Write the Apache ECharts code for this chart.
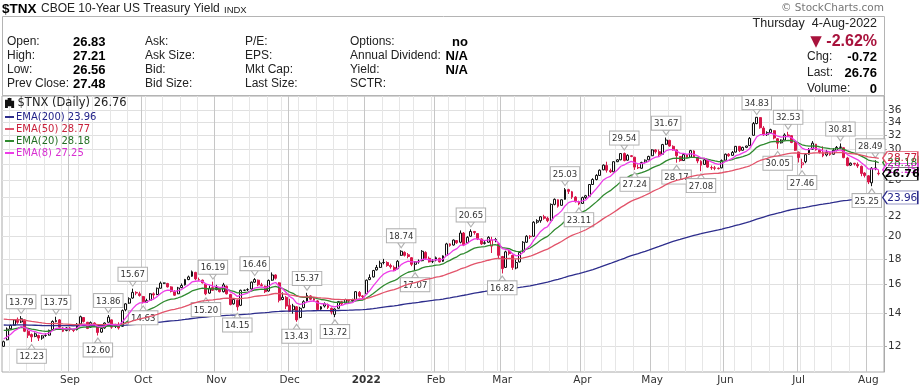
<!DOCTYPE html>
<html><head><meta charset="utf-8">
<script src="https://cdn.jsdelivr.net/npm/echarts@6/dist/echarts.min.js"></script>
<style>html,body{margin:0;padding:0;background:#fff;}#c{width:921px;height:388px;}</style>
</head><body><div id="c"></div>
<script>
// ---------- data (TNX, yield x10) ----------
const holidays = ['2021-09-06','2021-11-25','2021-12-24','2022-01-17','2022-02-21','2022-04-15','2022-05-30','2022-06-20','2022-07-04'];
const opens = [
 11.98,12.35,13.00,13.22,13.58,13.42,13.55,12.85,12.66,12.55,12.60,12.45,12.60,12.62,12.95,13.45,13.55,13.05,12.90,
 13.05,12.95,12.95,13.30,13.70,13.40,13.10,13.35,13.20,12.80,13.05,13.40,13.55,13.15,13.25,13.15,14.20,14.65,15.00,15.40,15.30,
 15.10,14.70,14.85,15.30,15.25,15.70,16.08,16.05,15.80,15.45,15.30,15.75,15.95,16.35,16.60,16.90,16.35,16.30,16.00,15.35,15.75,
 15.60,15.70,15.45,15.85,15.25,14.60,14.85,14.50,15.55,15.60,15.65,16.15,16.30,15.95,15.85,15.50,16.30,16.70,16.10,14.90,15.05,
 14.50,14.20,14.40,13.70,14.35,14.80,15.15,14.95,14.80,14.25,14.45,14.55,14.30,13.90,14.30,14.75,14.65,14.85,14.80,14.90,15.40,15.15,
 15.30,16.35,16.55,17.10,17.30,17.70,17.70,17.45,17.30,17.20,18.30,18.55,18.35,18.10,17.55,17.75,17.85,18.55,18.05,17.80,
 17.90,18.05,17.80,18.30,19.30,19.20,19.60,19.45,20.30,19.40,20.00,20.45,20.25,19.75,19.35,19.45,19.10,19.70,19.30,
 18.20,17.30,18.65,18.30,17.25,17.75,18.60,19.45,20.00,20.00,21.35,21.50,21.90,21.75,21.55,23.20,23.70,23.10,23.75,24.85,24.60,24.00,23.50,
 23.30,23.95,24.10,25.45,26.05,26.55,27.25,27.80,27.15,27.00,28.30,28.55,29.40,28.50,29.10,28.90,27.55,27.45,28.25,28.55,
 29.10,29.90,29.65,29.30,30.70,31.25,30.40,29.90,29.00,28.45,29.20,28.90,29.75,28.85,28.35,27.95,28.50,27.55,27.50,27.45,27.50,
 28.50,29.30,29.15,29.60,30.40,29.85,30.25,30.50,32.00,33.80,34.75,33.10,32.10,32.40,32.70,31.50,30.90,31.30,32.05,31.95,30.95,
 29.60,27.90,28.30,29.30,30.00,30.70,29.85,29.50,29.20,29.50,29.30,29.85,30.25,30.20,28.80,27.85,28.10,27.95,27.70,26.85,
 26.50,25.65,27.45,26.83];
const highs = [
 12.30,13.08,13.25,13.60,13.70,13.79,13.58,12.95,12.72,12.78,12.65,12.62,12.72,12.95,13.52,13.75,13.60,13.10,13.10,
 13.12,13.00,13.35,13.82,13.72,13.42,13.45,13.40,13.25,13.10,13.40,13.86,13.58,13.30,13.40,14.22,14.65,15.05,15.67,15.48,15.45,
 15.15,14.95,15.35,15.40,15.75,16.20,16.12,16.10,15.85,15.55,15.80,16.05,16.40,16.65,17.05,16.95,16.50,16.35,16.05,15.90,16.19,
 15.95,15.75,16.10,15.90,15.30,15.00,14.90,15.60,15.60,15.70,16.20,16.46,16.35,16.10,15.90,16.35,16.90,16.75,16.15,15.40,15.15,
 14.95,14.60,14.45,14.40,14.85,15.37,15.20,15.05,14.85,14.45,14.70,14.62,14.35,14.30,14.80,14.80,14.95,14.90,14.95,15.50,15.50,15.20,
 16.35,16.75,17.10,17.50,17.85,18.00,17.80,17.60,17.45,17.90,18.74,18.65,18.50,18.15,17.80,17.95,18.75,18.65,18.20,17.98,
 18.20,18.10,18.30,19.40,19.35,19.70,19.65,20.55,20.40,20.00,20.65,20.50,20.30,19.80,19.65,20.00,19.95,19.85,19.35,
 18.25,18.70,18.80,18.35,17.95,18.60,19.55,20.10,20.10,21.45,21.65,21.95,22.10,21.90,23.30,23.85,23.75,23.75,25.03,24.95,24.70,24.10,23.60,
 24.05,24.25,25.50,26.20,26.70,27.30,27.95,28.30,27.40,28.35,28.65,29.45,29.54,29.30,29.20,28.95,27.95,28.30,28.60,29.10,
 30.00,30.00,29.95,30.75,31.67,31.35,30.55,29.95,29.05,29.30,29.30,29.90,29.85,28.95,28.50,28.65,28.55,27.80,27.75,27.55,28.60,
 29.40,29.45,29.75,30.45,30.45,30.35,30.50,31.75,34.05,34.83,34.80,33.40,32.60,33.00,32.75,31.60,31.40,32.30,32.53,32.00,31.00,
 29.65,28.70,29.30,30.15,31.15,30.75,30.05,30.40,29.90,29.60,30.15,30.45,30.81,30.25,28.95,28.20,28.15,28.20,27.80,26.95,
 26.60,27.60,28.49,27.21];
const lows = [
 11.95,12.32,12.95,13.20,13.30,13.35,12.80,12.45,12.23,12.50,12.28,12.35,12.52,12.60,12.93,13.40,13.05,12.80,12.85,
 12.85,12.80,12.90,13.30,13.38,12.98,13.05,13.15,12.60,12.75,13.00,13.38,13.00,13.05,12.95,13.12,14.10,14.60,14.95,15.20,15.10,
 14.63,14.68,14.80,14.95,15.20,15.68,16.02,15.75,15.40,15.15,15.28,15.70,15.90,16.30,16.55,16.30,16.25,16.05,15.20,15.30,15.50,
 15.55,15.40,15.40,15.25,14.50,14.55,14.15,14.45,15.50,15.50,15.60,16.10,15.85,15.85,15.35,15.45,16.25,16.35,14.70,14.85,14.25,
 14.05,13.95,13.43,13.65,14.30,14.75,14.85,14.75,14.15,14.20,14.35,14.25,13.90,13.72,14.28,14.50,14.60,14.65,14.70,14.88,15.05,14.90,
 15.25,16.30,16.50,17.05,17.25,17.55,17.35,17.20,17.00,17.15,18.25,18.20,18.05,17.40,17.07,17.60,17.80,17.95,17.70,17.65,
 17.80,17.70,17.75,18.25,19.05,19.15,19.30,19.35,19.10,19.35,19.95,20.15,19.65,19.20,19.25,19.40,18.50,19.45,18.05,
 16.82,17.25,18.30,17.10,17.15,17.70,18.55,19.40,19.75,19.95,21.20,21.30,21.60,21.35,21.50,23.10,22.85,23.05,23.70,24.35,23.80,23.40,23.11,
 23.25,23.80,24.05,25.40,25.95,26.50,27.20,26.90,26.85,26.95,28.25,28.50,28.35,28.45,28.90,27.24,27.35,27.40,28.10,28.50,
 29.05,29.40,28.95,29.25,30.60,30.35,29.80,28.17,28.30,28.40,28.75,28.85,28.80,28.10,27.08,27.90,27.50,27.25,27.20,27.30,27.45,
 28.45,28.95,29.10,29.55,29.60,29.80,30.15,30.45,31.95,33.70,33.00,31.90,31.90,32.30,31.40,30.05,30.80,31.25,31.80,30.85,29.75,
 28.20,27.46,28.10,29.25,29.95,29.80,29.40,28.90,29.00,29.10,29.25,29.70,30.05,28.75,27.70,27.75,27.80,27.50,26.45,26.30,
 25.50,25.25,27.20,26.56];
const closes = [
 12.24,12.98,13.20,13.55,13.40,13.62,12.85,12.62,12.52,12.70,12.45,12.58,12.60,12.90,13.45,13.50,13.10,12.85,13.05,
 12.95,12.90,13.28,13.75,13.45,13.02,13.38,13.25,12.78,13.02,13.35,13.72,13.10,13.25,13.05,14.15,14.60,14.95,15.40,15.35,15.18,
 14.75,14.82,15.30,15.22,15.70,16.08,16.08,15.80,15.48,15.20,15.72,15.90,16.35,16.55,16.95,16.40,16.35,16.10,15.30,15.70,15.55,
 15.75,15.45,15.95,15.30,14.55,14.90,14.40,15.55,15.55,15.60,16.15,16.35,15.95,15.90,15.45,16.28,16.70,16.45,14.85,15.05,14.45,
 14.10,14.45,13.55,14.30,14.75,15.18,14.92,14.85,14.22,14.40,14.60,14.35,14.05,14.25,14.75,14.60,14.90,14.80,14.85,15.45,15.15,15.10,
 16.30,16.50,17.05,17.30,17.65,17.70,17.45,17.35,17.05,17.80,18.65,18.30,18.20,17.55,17.75,17.80,18.65,18.05,17.75,17.80,
 18.10,17.75,18.25,19.30,19.15,19.65,19.40,20.30,19.20,19.90,20.45,20.35,19.75,19.30,19.40,19.90,19.65,19.70,18.30,
 17.20,18.60,18.45,17.30,17.70,18.55,19.45,20.00,19.95,21.35,21.50,21.90,21.75,21.50,23.20,23.75,23.00,23.70,24.85,24.65,24.00,23.50,23.25,
 23.95,24.15,25.45,26.05,26.55,27.20,27.85,27.20,27.00,28.30,28.55,29.40,28.45,29.15,29.00,27.60,27.50,28.20,28.50,29.00,
 29.90,29.65,29.25,30.65,31.30,30.45,29.90,29.10,28.45,29.25,28.85,29.80,28.90,28.40,27.85,28.55,27.60,27.50,27.45,27.40,28.45,
 29.30,29.10,29.55,30.40,29.80,30.25,30.45,31.55,33.80,34.80,33.15,32.10,32.40,32.85,31.60,30.85,31.30,32.05,31.95,30.95,29.85,
 28.85,28.15,29.25,29.95,30.85,29.90,29.55,29.10,29.55,29.25,29.85,30.25,30.30,28.85,27.80,28.10,28.00,27.75,26.80,26.55,
 25.75,27.45,27.48,26.76];
// EMA values at the first bar
const emaSeeds = {200: 13.23, 50: 13.60, 20: 12.90, 8: 12.40};
const emaLast = {200: '23.96', 50: '28.77', 20: '28.18', 8: '27.25'};
const lastPrice = '26.76';
// swing annotations
const highIdx = [5,15,30,37,60,72,87,114,134,161,178,190,216,225,240,250];
const highVal = [13.79,13.75,13.86,15.67,16.19,16.46,15.37,18.74,20.65,25.03,29.54,31.67,34.83,32.53,30.81,28.49];
const lowIdx = [8,27,40,58,67,84,95,118,143,165,181,193,200,222,229,249];
const lowVal = [12.23,12.60,14.63,15.20,14.15,13.43,13.72,17.07,16.82,23.11,27.24,28.17,27.08,30.05,27.46,25.25];
const yTicks = [12,14,16,18,20,22,24,26,28,30,32,34,36];
const yRange = [10.63, 38.43];
const monthNames = ['Jan','Feb','Mar','Apr','May','Jun','Jul','Aug','Sep','Oct','Nov','Dec'];

// ---------- build ----------
function tradingDays(){
  const out=[]; let t=Date.UTC(2021,7,5); const end=Date.UTC(2022,7,4);
  while(t<=end){ const d=new Date(t); const wd=d.getUTCDay(); const s=d.toISOString().slice(0,10);
    if(wd!==0&&wd!==6&&holidays.indexOf(s)<0) out.push(s); t+=86400000; }
  return out;
}
const dates = tradingDays();
const cats = dates.concat(['']);
const lastDate = dates[dates.length-1];
const L = v => Math.log(v);
function ema(src,n,seed){ const k=2/(n+1); const o=[seed]; for(let i=1;i<src.length;i++) o.push(o[i-1]+k*(src[i]-o[i-1])); return o; }
const monthStart = new Set(), weekStart = new Set();
for(let i=1;i<dates.length;i++){
  if(dates[i].slice(0,7)!==dates[i-1].slice(0,7)) monthStart.add(i);
  const a=new Date(dates[i-1]+'T00:00:00Z'), b=new Date(dates[i]+'T00:00:00Z');
  if(b.getUTCDay()<a.getUTCDay() || (b-a)>4*86400000) weekStart.add(i);
}
const RED='#d8174a', BLK='#111';
const candleData = dates.map((d,i)=>{
  const o=opens[i],c=closes[i];
  const prev = i>0?closes[i-1]:o;
  const col = c<prev?RED:BLK;
  const fill = c>o?'#fff':col;
  return {value:[L(o),L(c),L(lows[i]),L(highs[i])], itemStyle:{color:fill,color0:fill,borderColor:col,borderColor0:col,borderColorDoji:col}};
});
const annLabel = {show:true, formatter:p=>p.value, color:'#333', fontSize:9.5, fontFamily:'DejaVu Sans Condensed, DejaVu Sans', backgroundColor:'#fff', borderColor:'#b0b0b0', borderWidth:1, padding:[2,2,1,2], lineHeight:10};
// labels near the right edge are pulled left so they stay inside the plot
const edgeShift = ix => (dates.length-1-ix) < 4 ? -5 : 0;
const annData = highIdx.map((ix,k)=>({coord:[dates[ix],L(highVal[k])], value:highVal[k].toFixed(2), symbolRotate:180, symbolOffset:[0,-5], label:{position:'top',distance:0,offset:[edgeShift(ix),0]}}))
  .concat(lowIdx.map((ix,k)=>({coord:[dates[ix],L(lowVal[k])], value:lowVal[k].toFixed(2), symbolRotate:0, symbolOffset:[0,5], label:{position:'bottom',distance:0,offset:[edgeShift(ix),0]}})));

// tag shape for the last-value boxes on the right
const TAG = 'path://M0,6.5L5,0H40V13H5Z';
function tagMark(val, border, textColor, bold){
  return {symbol:TAG, symbolSize:[35,13], symbolOffset:[21.5,0], silent:true,
    itemStyle:{color:'#fff', borderColor:border, borderWidth:1},
    data:[{coord:[lastDate, L(+val)], value:val}],
    label:{show:true, position:'inside', offset:[2,0.5], formatter:p=>p.value, color:textColor,
      fontWeight:bold?'bold':'normal', fontSize:bold?11:10.5, fontFamily:'DejaVu Sans'}};
}

// drawing order: later series end up on top
const emaCfg = [
  {n:200, name:'EMA(200)', color:'#2d2d8c', text:'#23238a'},
  {n:20, name:'EMA(20)', color:'#2f8a2f', text:'#237023'},
  {n:50, name:'EMA(50)', color:'#e2536a', text:'#c8203a'},
  {n:8, name:'EMA(8)', color:'#ee3ce8', text:'#d82fd2'}
];
const legendOrder = ['EMA(200)','EMA(50)','EMA(20)','EMA(8)'];
const emaSeries = emaCfg.map((c,j)=>{
  const e = ema(closes,c.n,emaSeeds[c.n]);
  return {type:'line', name:c.name, data:e.map(L), showSymbol:false, symbol:'none', z:3+j, silent:true,
    lineStyle:{color:c.color,width:1.3}, itemStyle:{color:c.color},
    markPoint:tagMark(emaLast[c.n], c.color, c.text, false)};
});

function txt(x,y,t,font,fill,align){ return {type:'text', x:x, y:y, silent:true, style:{text:t, font:font, fill:fill||'#222', align:align||'left', verticalAlign:'middle'}}; }
const F = '12px "Liberation Sans"', FB = 'bold 13px "Liberation Sans"';
const graphics = [
  {type:'rect', silent:true, shape:{x:2.5,y:16.5,width:882,height:79}, style:{fill:'none',stroke:'#b4b4b4',lineWidth:1}},
  txt(2,9,'$TNX','bold 13.5px "Liberation Sans"','#000'),
  txt(41,9,'CBOE 10-Year US Treasury Yield','12px "Liberation Sans"','#222'),
  txt(224,10,'INDX','9.5px "Liberation Sans"','#222'),
  txt(884,8,'\u00A9 StockCharts.com','10.5px "DejaVu Sans"','#777','right'),
  txt(7,42,'Open:',F), txt(7,56,'High:',F), txt(7,70,'Low:',F), txt(7,84,'Prev Close:',F),
  txt(73,42,'26.83',FB,'#000'), txt(73,56,'27.21',FB,'#000'), txt(73,70,'26.56',FB,'#000'), txt(73,84,'27.48',FB,'#000'),
  txt(145,42,'Ask:',F), txt(145,56,'Ask Size:',F), txt(145,70,'Bid:',F), txt(145,84,'Bid Size:',F),
  txt(245,42,'P/E:',F), txt(245,56,'EPS:',F), txt(245,70,'Mkt Cap:',F), txt(245,84,'Last Size:',F),
  txt(350,42,'Options:',F), txt(350,56,'Annual Dividend:',F), txt(350,70,'Yield:',F), txt(350,84,'SCTR:',F),
  txt(468,42,'no',FB,'#000','right'), txt(468,56,'N/A',FB,'#000','right'), txt(468,70,'N/A',FB,'#000','right'),
  txt(877,24,'Thursday  4-Aug-2022','12.5px "Liberation Sans"','#222','right'),
  txt(877,42,'-2.62%','bold 16px "Liberation Sans"','#a8123c','right'),
  txt(816,42,'\u25BC','15px "DejaVu Sans"','#a8123c','center'),
  txt(807,57,'Chg:',F), txt(877,57,'-0.72',FB,'#000','right'),
  txt(807,73,'Last:',F), txt(877,73,'26.76',FB,'#000','right'),
  txt(807,89,'Volume:',F), txt(877,89,'0',FB,'#000','right')
];

const option = {
  animation:false, backgroundColor:'#fff',
  grid:{left:2,right:37,top:96,bottom:16,show:true,borderColor:'#aaa',borderWidth:1,backgroundColor:'rgba(0,0,0,0)'},
  legend:[
    {data:[{name:'$TNX (Daily)', icon:'path://M1,2h1v7h-1z M4,0h2v7h-2z M8,3h1v6h-1z', itemStyle:{color:'#111', borderColor:'#111'}}], orient:'vertical', left:3, top:96, padding:[1,2],
     itemWidth:10, itemHeight:8, itemGap:0, selectedMode:false, formatter:n=>n+' '+lastPrice,
     textStyle:{fontFamily:'DejaVu Sans', fontSize:11.5, color:'#222', padding:[0,0,0,-2]}},
    {data:legendOrder.map(nm=>{ const c=emaCfg.find(x=>x.name===nm); return {name:nm, icon:'rect', itemStyle:{color:c.color}, textStyle:{color:c.text}}; }),
     orient:'vertical', left:3, top:110, padding:[1,2],
     itemWidth:9, itemHeight:2, itemGap:0, selectedMode:false, formatter:n=>n+' '+emaLast[emaCfg.find(c=>c.name===n).n],
     textStyle:{fontFamily:'DejaVu Sans', fontSize:10, lineHeight:12, padding:[0,0,0,-3]}}
  ],
  xAxis:[
    {type:'category', data:cats, boundaryGap:true, axisLine:{show:false}, axisTick:{show:false},
     axisLabel:{interval:(i)=>monthStart.has(i), color:'#333', fontSize:10.5, fontFamily:'DejaVu Sans', margin:3,
       formatter:v=>{ if(!v) return ''; const m=+v.slice(5,7); return m===1?'{b|'+v.slice(0,4)+'}':monthNames[m-1]; },
       rich:{b:{fontWeight:'bold', fontSize:10.5, fontFamily:'DejaVu Sans', color:'#333'}}},
     splitLine:{show:true, interval:(i)=>monthStart.has(i), lineStyle:{color:'#c6c6c6',width:1}}},
    {type:'category', data:cats, boundaryGap:true, position:'bottom', axisLine:{show:false}, axisTick:{show:false}, axisLabel:{show:false},
     splitLine:{show:true, interval:(i)=>weekStart.has(i)&&!monthStart.has(i), lineStyle:{color:'#e6e6e6',width:1}}}
  ],
  yAxis:{type:'value', position:'right', min:L(yRange[0]), max:L(yRange[1]),
    axisLine:{show:true, lineStyle:{color:'#aaa'}},
    axisTick:{show:true, customValues:yTicks.map(L), length:3, lineStyle:{color:'#aaa'}},
    axisLabel:{customValues:yTicks.map(L), formatter:v=>String(Math.round(Math.exp(v))), color:'#333', fontSize:10.5, fontFamily:'DejaVu Sans', margin:4},
    splitLine:{show:true, lineStyle:{color:'#e0e0e0'}}},
  series:[
    {type:'candlestick', name:'$TNX (Daily)', data:candleData, barWidth:2.4, z:2, silent:true,
     itemStyle:{color:'#111', color0:'#111', borderColor:'#111', borderColor0:'#111'},
     markPoint:{symbol:'triangle', symbolSize:[7,5], silent:true, itemStyle:{color:'#fff', borderColor:'#b0b0b0', borderWidth:1}, label:annLabel, data:annData}}
  ].concat(emaSeries).concat([
    {type:'line', name:'last', data:closes.map(L), showSymbol:false, symbol:'none', z:10, silent:true, lineStyle:{opacity:0},
     markPoint:tagMark(lastPrice, '#000', '#000', true)}
  ]),
  graphic:graphics
};
const chart = echarts.init(document.getElementById('c'), null, {renderer:'canvas', width:921, height:388});
chart.setOption(option);
</script></body></html>
